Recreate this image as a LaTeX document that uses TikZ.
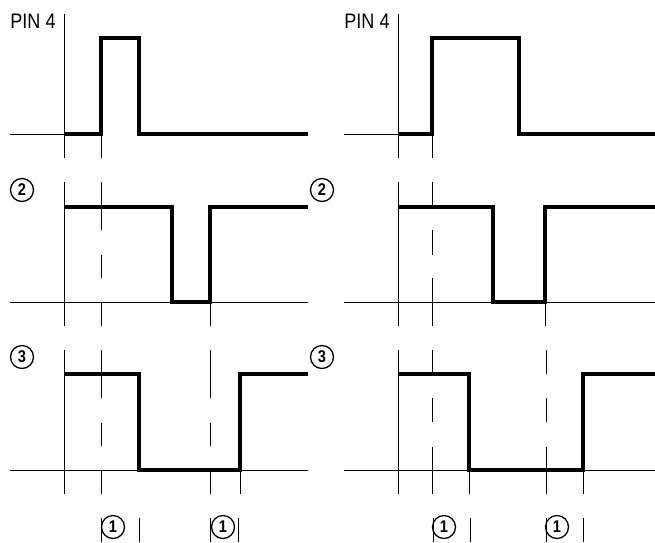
\documentclass[tikz,border=0pt]{standalone}
\usepackage{fontspec}
\setmainfont{Liberation Sans}[FakeStretch=0.86]
\usepackage{tikz}
\usetikzlibrary{positioning}

\begin{document}
\begin{tikzpicture}[x=1pt, y=-1pt,
    signal/.style={line width=3.2pt},
    axis/.style={line width=0.9pt},
    pinlabel/.style={font=\fontsize{21}{21}\selectfont, inner sep=0pt},
    circnum/.style={draw, circle, line width=1.3pt, minimum size=23pt, inner sep=0pt,
                    font=\fontsize{17}{17}\selectfont\bfseries}]
  \useasboundingbox (0,0) rectangle (655,542);

  % left column
  \draw[axis] (64,14) -- (64,158);
  \draw[axis] (10,134) -- (64,134);
  \draw[signal] (64,134) -- (101,134) -- (101,38) -- (139,38) -- (139,134) -- (308,134);
  \draw[axis] (101,134) -- (101,158);

  \draw[axis] (64,182) -- (64,326);
  \draw[axis] (10,302) -- (308,302);
  \draw[signal] (64,207) -- (172,207) -- (172,302) -- (210,302) -- (210,207) -- (308,207);
  \foreach \a/\b in {182/230, 255/278, 303/326}
    \draw[axis] (101,\a) -- (101,\b);
  \draw[axis] (210,302) -- (210,326);

  \draw[axis] (64,350) -- (64,494);
  \draw[axis] (10,470) -- (308,470);
  \draw[signal] (64,374) -- (139,374) -- (139,470) -- (240,470) -- (240,374) -- (308,374);
  \foreach \x in {101, 210}
    \foreach \a/\b in {350/398, 423/446, 470/494}
      \draw[axis] (\x,\a) -- (\x,\b);
  \draw[axis] (240,470) -- (240,494);

  % right column
  \draw[axis] (398,14) -- (398,158);
  \draw[axis] (344,134) -- (398,134);
  \draw[signal] (398,134) -- (432,134) -- (432,38) -- (519,38) -- (519,134) -- (655,134);
  \draw[axis] (432,134) -- (432,158);

  \draw[axis] (398,182) -- (398,326);
  \draw[axis] (344,302) -- (655,302);
  \draw[signal] (398,207) -- (493,207) -- (493,302) -- (545,302) -- (545,207) -- (655,207);
  \foreach \a/\b in {182/207, 230/255, 278/326}
    \draw[axis] (432,\a) -- (432,\b);
  \draw[axis] (545,302) -- (545,326);

  \draw[axis] (398,350) -- (398,494);
  \draw[axis] (344,470) -- (655,470);
  \draw[signal] (398,374) -- (469,374) -- (469,470) -- (583,470) -- (583,374) -- (655,374);
  \foreach \x in {432, 546}
    \foreach \a/\b in {350/374, 398/422, 447/494}
      \draw[axis] (\x,\a) -- (\x,\b);
  \foreach \x in {469, 583}
    \draw[axis] (\x,470) -- (\x,494);

  % labels
  \node[pinlabel] (pinL) at (33,21) {PIN 4};
  \node[pinlabel] (pinR) at (367,21) {PIN 4};
  \node[circnum] (twoL) at (22,190) {2};
  \node[circnum] (twoR) at (322,190) {2};
  \node[circnum] (threeL) at (22,357) {3};
  \node[circnum] (threeR) at (322,357) {3};
  \node[circnum] (oneA) at (113,527) {1};
  \node[circnum] (oneB) at (223,527) {1};
  \node[circnum] (oneC) at (444,527) {1};
  \node[circnum] (oneD) at (557,527) {1};

  % markers under the time axis
  \foreach \x in {101, 139, 210, 238, 433, 470, 546, 583}
    \draw[axis] (\x,518) -- (\x,542);
\end{tikzpicture}
\end{document}
